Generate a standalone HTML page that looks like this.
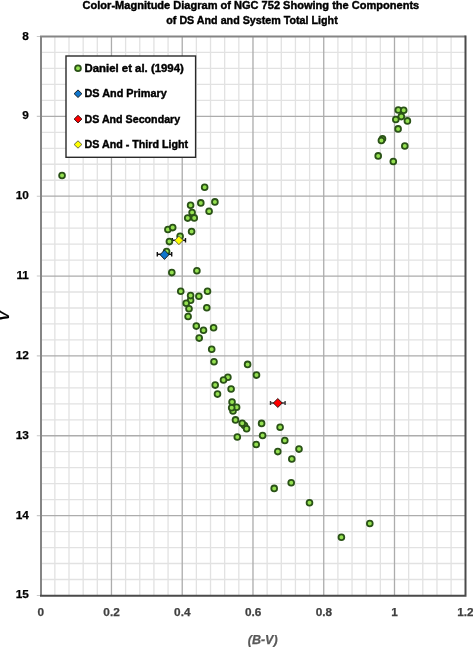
<!DOCTYPE html>
<html><head><meta charset="utf-8"><style>
html,body{margin:0;padding:0;background:#fff;}
body{width:473px;height:647px;overflow:hidden;position:relative;font-family:"Liberation Sans",sans-serif;}
svg{position:absolute;left:0;top:0;will-change:transform;}
</style></head><body>
<svg width="473" height="647" viewBox="0 0 473 647">
<path d="M54.85 36V596 M69.00 36V596 M83.16 36V596 M97.31 36V596 M125.61 36V596 M139.76 36V596 M153.92 36V596 M168.07 36V596 M196.37 36V596 M210.52 36V596 M224.68 36V596 M238.83 36V596 M267.13 36V596 M281.28 36V596 M295.44 36V596 M309.59 36V596 M337.89 36V596 M352.04 36V596 M366.20 36V596 M380.35 36V596 M408.65 36V596 M422.80 36V596 M436.96 36V596 M451.11 36V596 M41 52.47H465 M41 68.44H465 M41 84.41H465 M41 100.38H465 M41 132.32H465 M41 148.29H465 M41 164.26H465 M41 180.23H465 M41 212.17H465 M41 228.14H465 M41 244.11H465 M41 260.08H465 M41 292.02H465 M41 307.99H465 M41 323.96H465 M41 339.93H465 M41 371.87H465 M41 387.84H465 M41 403.81H465 M41 419.78H465 M41 451.72H465 M41 467.69H465 M41 483.66H465 M41 499.63H465 M41 531.57H465 M41 547.54H465 M41 563.51H465 M41 579.48H465" stroke="#e2e2e2" stroke-width="1.3" fill="none"/>
<path d="M111.46 36V596 M182.22 36V596 M252.98 36V596 M323.74 36V596 M394.50 36V596 M41 116.35H465 M41 196.20H465 M41 276.05H465 M41 355.90H465 M41 435.75H465 M41 515.60H465" stroke="#acacac" stroke-width="1.3" fill="none"/>
<path d="M36.8 36.50H40 M36.8 116.35H40 M36.8 196.20H40 M36.8 276.05H40 M36.8 355.90H40 M36.8 435.75H40 M36.8 515.60H40 M36.8 595.45H40" stroke="#c8c8c8" stroke-width="1.1" fill="none"/>
<path d="M41 595.8V36.4H465.5" stroke="#858585" stroke-width="2" fill="none"/>
<path d="M40 595.8H465.5V35.4" stroke="#4a4a4a" stroke-width="2" fill="none"/>
<path d="M157.30 254.30H171.70" stroke="#111" stroke-width="1.5"/><path d="M157.30 252.00V256.60M171.70 252.00V256.60" stroke="#111" stroke-width="1.4"/>
<path d="M270.50 403.00H285.10" stroke="#3a3a3a" stroke-width="1.5"/><path d="M270.50 401.00V405.00M285.10 401.00V405.00" stroke="#3a3a3a" stroke-width="1.4"/>
<path d="M172.30 240.30H185.50" stroke="#111" stroke-width="1.5"/><path d="M172.30 238.00V242.60M185.50 238.00V242.60" stroke="#111" stroke-width="1.4"/>
<g fill="#94e050" stroke="#2a5217" stroke-width="1.8"><circle cx="62.05" cy="175.50" r="2.9"/><circle cx="204.65" cy="187.30" r="2.9"/><circle cx="190.60" cy="205.20" r="2.9"/><circle cx="200.80" cy="202.90" r="2.9"/><circle cx="214.90" cy="201.90" r="2.9"/><circle cx="209.10" cy="211.20" r="2.9"/><circle cx="192.10" cy="212.50" r="2.9"/><circle cx="187.70" cy="218.10" r="2.9"/><circle cx="194.25" cy="217.90" r="2.9"/><circle cx="167.90" cy="229.50" r="2.9"/><circle cx="172.70" cy="227.60" r="2.9"/><circle cx="191.60" cy="231.60" r="2.9"/><circle cx="169.40" cy="241.60" r="2.9"/><circle cx="180.10" cy="236.20" r="2.9"/><circle cx="166.60" cy="251.60" r="2.9"/><circle cx="171.80" cy="272.60" r="2.9"/><circle cx="196.90" cy="270.80" r="2.9"/><circle cx="180.75" cy="291.30" r="2.9"/><circle cx="190.60" cy="300.20" r="2.9"/><circle cx="190.60" cy="295.60" r="2.9"/><circle cx="198.90" cy="296.20" r="2.9"/><circle cx="207.50" cy="291.20" r="2.9"/><circle cx="186.20" cy="303.20" r="2.9"/><circle cx="189.00" cy="308.70" r="2.9"/><circle cx="206.80" cy="307.80" r="2.9"/><circle cx="188.10" cy="316.50" r="2.9"/><circle cx="196.30" cy="326.10" r="2.9"/><circle cx="203.50" cy="330.30" r="2.9"/><circle cx="213.60" cy="327.80" r="2.9"/><circle cx="199.20" cy="338.10" r="2.9"/><circle cx="211.70" cy="349.30" r="2.9"/><circle cx="214.00" cy="361.70" r="2.9"/><circle cx="247.60" cy="364.40" r="2.9"/><circle cx="256.50" cy="375.10" r="2.9"/><circle cx="227.90" cy="377.20" r="2.9"/><circle cx="223.50" cy="380.00" r="2.9"/><circle cx="215.20" cy="385.10" r="2.9"/><circle cx="231.10" cy="389.00" r="2.9"/><circle cx="217.50" cy="394.10" r="2.9"/><circle cx="233.00" cy="410.90" r="2.9"/><circle cx="236.60" cy="407.20" r="2.9"/><circle cx="231.70" cy="407.80" r="2.9"/><circle cx="232.05" cy="402.00" r="2.9"/><circle cx="235.50" cy="419.90" r="2.9"/><circle cx="244.50" cy="425.50" r="2.9"/><circle cx="242.20" cy="423.30" r="2.9"/><circle cx="246.60" cy="428.70" r="2.9"/><circle cx="261.60" cy="423.40" r="2.9"/><circle cx="237.30" cy="437.00" r="2.9"/><circle cx="262.60" cy="435.50" r="2.9"/><circle cx="256.20" cy="444.50" r="2.9"/><circle cx="280.10" cy="427.20" r="2.9"/><circle cx="284.80" cy="440.50" r="2.9"/><circle cx="277.80" cy="451.60" r="2.9"/><circle cx="299.00" cy="449.10" r="2.9"/><circle cx="291.80" cy="459.00" r="2.9"/><circle cx="291.20" cy="482.80" r="2.9"/><circle cx="274.20" cy="488.40" r="2.9"/><circle cx="309.50" cy="502.70" r="2.9"/><circle cx="341.40" cy="537.20" r="2.9"/><circle cx="369.80" cy="523.50" r="2.9"/><circle cx="398.30" cy="110.00" r="2.9"/><circle cx="403.70" cy="110.20" r="2.9"/><circle cx="401.30" cy="116.60" r="2.9"/><circle cx="395.80" cy="119.50" r="2.9"/><circle cx="407.40" cy="120.90" r="2.9"/><circle cx="398.10" cy="128.90" r="2.9"/><circle cx="382.50" cy="138.70" r="2.9"/><circle cx="381.40" cy="140.50" r="2.9"/><circle cx="404.80" cy="146.00" r="2.9"/><circle cx="378.20" cy="155.90" r="2.9"/><circle cx="393.30" cy="161.50" r="2.9"/></g>
<path d="M164.50 249.95L168.95 254.70L164.50 259.45L160.05 254.70Z" fill="#1076cc" stroke="#101010" stroke-width="0.9"/>
<path d="M277.80 398.55L282.30 403.00L277.80 407.45L273.30 403.00Z" fill="#ff0000" stroke="#201010" stroke-width="0.9"/>
<path d="M178.90 236.10L183.05 240.40L178.90 244.70L174.75 240.40Z" fill="#ffff00" stroke="#5a5a40" stroke-width="0.9"/>
<rect x="66" y="56" width="129.6" height="101.3" fill="#fff" stroke="#2a2a2a" stroke-width="1.4"/>
<circle cx="78" cy="68.3" r="2.9" fill="#94e050" stroke="#2a5217" stroke-width="1.8"/>
<path d="M78.00 89.90L81.90 93.70L78.00 97.50L74.10 93.70Z" fill="#1076cc" stroke="#101010" stroke-width="0.9"/>
<path d="M78.00 115.30L81.90 119.10L78.00 122.90L74.10 119.10Z" fill="#ff0000" stroke="#201010" stroke-width="0.9"/>
<path d="M78.00 140.80L81.90 144.50L78.00 148.20L74.10 144.50Z" fill="#ffff00" stroke="#5a5a40" stroke-width="0.9"/>
<g font-family="Liberation Sans, sans-serif" font-weight="bold"><text x="82.6" y="8.9" font-size="10.6" text-anchor="start" fill="#000" stroke="#000" stroke-width="0.4" textLength="336.6" lengthAdjust="spacingAndGlyphs" >Color-Magnitude Diagram of NGC 752 Showing the Components</text><text x="166.3" y="24.4" font-size="10.6" text-anchor="start" fill="#000" stroke="#000" stroke-width="0.4" textLength="171.4" lengthAdjust="spacingAndGlyphs" >of DS And and System Total Light</text><text x="84.5" y="71.7" font-size="10.6" text-anchor="start" fill="#000" stroke="#000" stroke-width="0.4" textLength="99.3" lengthAdjust="spacingAndGlyphs" >Daniel et al. (1994)</text><text x="84.5" y="97.2" font-size="10.6" text-anchor="start" fill="#000" stroke="#000" stroke-width="0.4" textLength="82.2" lengthAdjust="spacingAndGlyphs" >DS And Primary</text><text x="84.5" y="122.5" font-size="10.6" text-anchor="start" fill="#000" stroke="#000" stroke-width="0.4" textLength="95.69999999999999" lengthAdjust="spacingAndGlyphs" >DS And Secondary</text><text x="84.5" y="147.8" font-size="10.6" text-anchor="start" fill="#000" stroke="#000" stroke-width="0.4" textLength="103.69999999999999" lengthAdjust="spacingAndGlyphs" >DS And - Third Light</text><text x="28.9" y="39.5" font-size="11.8" text-anchor="end" fill="#000" stroke="#000" stroke-width="0.25" >8</text><text x="28.9" y="119.35" font-size="11.8" text-anchor="end" fill="#000" stroke="#000" stroke-width="0.25" >9</text><text x="28.9" y="199.2" font-size="11.8" text-anchor="end" fill="#000" stroke="#000" stroke-width="0.25" >10</text><text x="28.9" y="279.04999999999995" font-size="11.8" text-anchor="end" fill="#000" stroke="#000" stroke-width="0.25" >11</text><text x="28.9" y="358.9" font-size="11.8" text-anchor="end" fill="#000" stroke="#000" stroke-width="0.25" >12</text><text x="28.9" y="438.75" font-size="11.8" text-anchor="end" fill="#000" stroke="#000" stroke-width="0.25" >13</text><text x="28.9" y="518.5999999999999" font-size="11.8" text-anchor="end" fill="#000" stroke="#000" stroke-width="0.25" >14</text><text x="28.9" y="598.4499999999999" font-size="11.8" text-anchor="end" fill="#000" stroke="#000" stroke-width="0.25" >15</text><text x="40.800000000000004" y="616" font-size="11.8" text-anchor="middle" fill="#404040" stroke="#404040" stroke-width="0.25" >0</text><text x="111.56" y="616" font-size="11.8" text-anchor="middle" fill="#404040" stroke="#404040" stroke-width="0.25" >0.2</text><text x="182.32000000000002" y="616" font-size="11.8" text-anchor="middle" fill="#404040" stroke="#404040" stroke-width="0.25" >0.4</text><text x="253.08" y="616" font-size="11.8" text-anchor="middle" fill="#404040" stroke="#404040" stroke-width="0.25" >0.6</text><text x="323.84000000000003" y="616" font-size="11.8" text-anchor="middle" fill="#404040" stroke="#404040" stroke-width="0.25" >0.8</text><text x="394.6" y="616" font-size="11.8" text-anchor="middle" fill="#404040" stroke="#404040" stroke-width="0.25" >1</text><text x="465.36000000000007" y="616" font-size="11.8" text-anchor="middle" fill="#404040" stroke="#404040" stroke-width="0.25" >1.2</text><text x="262.7" y="644.1" font-size="12.6" text-anchor="middle" fill="#595959" stroke="#595959" stroke-width="0.25" textLength="29.8" lengthAdjust="spacingAndGlyphs" font-style="italic">(B-V)</text><text x="0" y="0" font-size="13.5" text-anchor="middle" fill="#000" stroke="#000" stroke-width="0.1" font-style="italic" transform="translate(9.3 316.1) rotate(-90)">V</text></g>
</svg>
</body></html>
